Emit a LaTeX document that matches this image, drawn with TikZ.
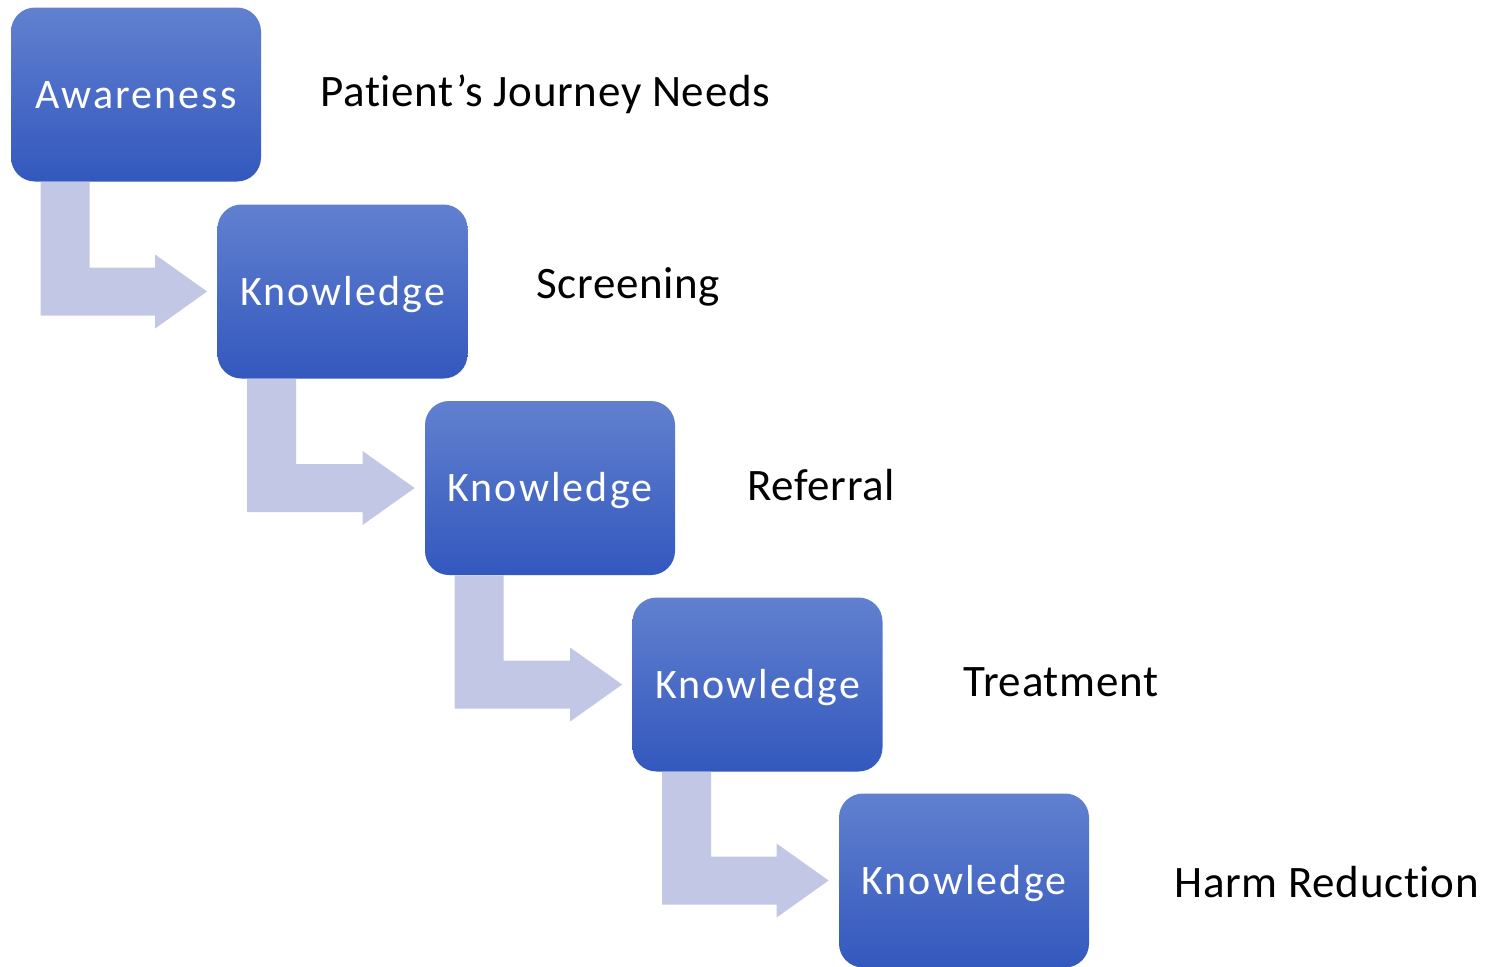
\documentclass[tikz,border=0pt]{standalone}
\usepackage{fontspec}
\setmainfont{Carlito}[Ligatures=NoCommon, LetterSpace=1.5]
\newfontfamily\boxfont{Carlito}[Ligatures=NoCommon, LetterSpace=5]
\usetikzlibrary{calc}
\definecolor{boxtop}{HTML}{6180CF}
\definecolor{boxbottom}{HTML}{3358BE}
\definecolor{arrowfill}{HTML}{C1C7E5}
\tikzset{
	stagebox/.style={rounded corners=12pt, top color=boxtop, bottom color=boxbottom, draw=none, text=white,
		font=\boxfont\fontsize{21}{25}\selectfont, minimum width=125pt, minimum height=87pt, inner sep=0pt,
		text height=13.5pt, text depth=0pt},
	needlabel/.style={anchor=base west, font=\fontsize{22.5}{27}\selectfont, inner sep=0pt}
}
\def\journeyarrow(#1)(#2){\fill[arrowfill] ($(#1.south west)+(30,0)$) -- ($(#1.south west)+(79,0)$) |- ($(#2.west)+(-62,-24)$) -- ($(#2.west)+(-62,-37)$) -- ($(#2.west)+(-10,0)$) -- ($(#2.west)+(-62,37)$) -- ($(#2.west)+(-62,24)$) -| ($(#1.south west)+(30,0)$) -- cycle;}

\begin{document}
\begin{tikzpicture}[x=0.5pt, y=-0.5pt]
		%%%%% START %%%%%
		
		\useasboundingbox (0, 0) rectangle (1485, 966);
		
		\node[stagebox] (aware) at (136, 94.5) {Awareness};
		\node[stagebox] (know1) at (342.5, 291.5) {Knowledge};
		\node[stagebox] (know2) at (550, 488) {Knowledge};
		\node[stagebox] (know3) at (757.5, 684.5) {Knowledge};
		\node[stagebox] (know4) at (964, 880.5) {Knowledge};
		
		\journeyarrow(aware)(know1);
		\journeyarrow(know1)(know2);
		\journeyarrow(know2)(know3);
		\journeyarrow(know3)(know4);
		
		\node[needlabel] (journey) at (320, 106) {Patient’s Journey Needs};
		\node[needlabel] (screen) at (536, 298) {Screening};
		\node[needlabel] (refer) at (747, 500) {Referral};
		\node[needlabel] (treat) at (963, 696) {Treatment};
		\node[needlabel] (harm) at (1174, 897) {Harm Reduction};
		
		%%%%% END %%%%%
	\end{tikzpicture}
\end{document}
